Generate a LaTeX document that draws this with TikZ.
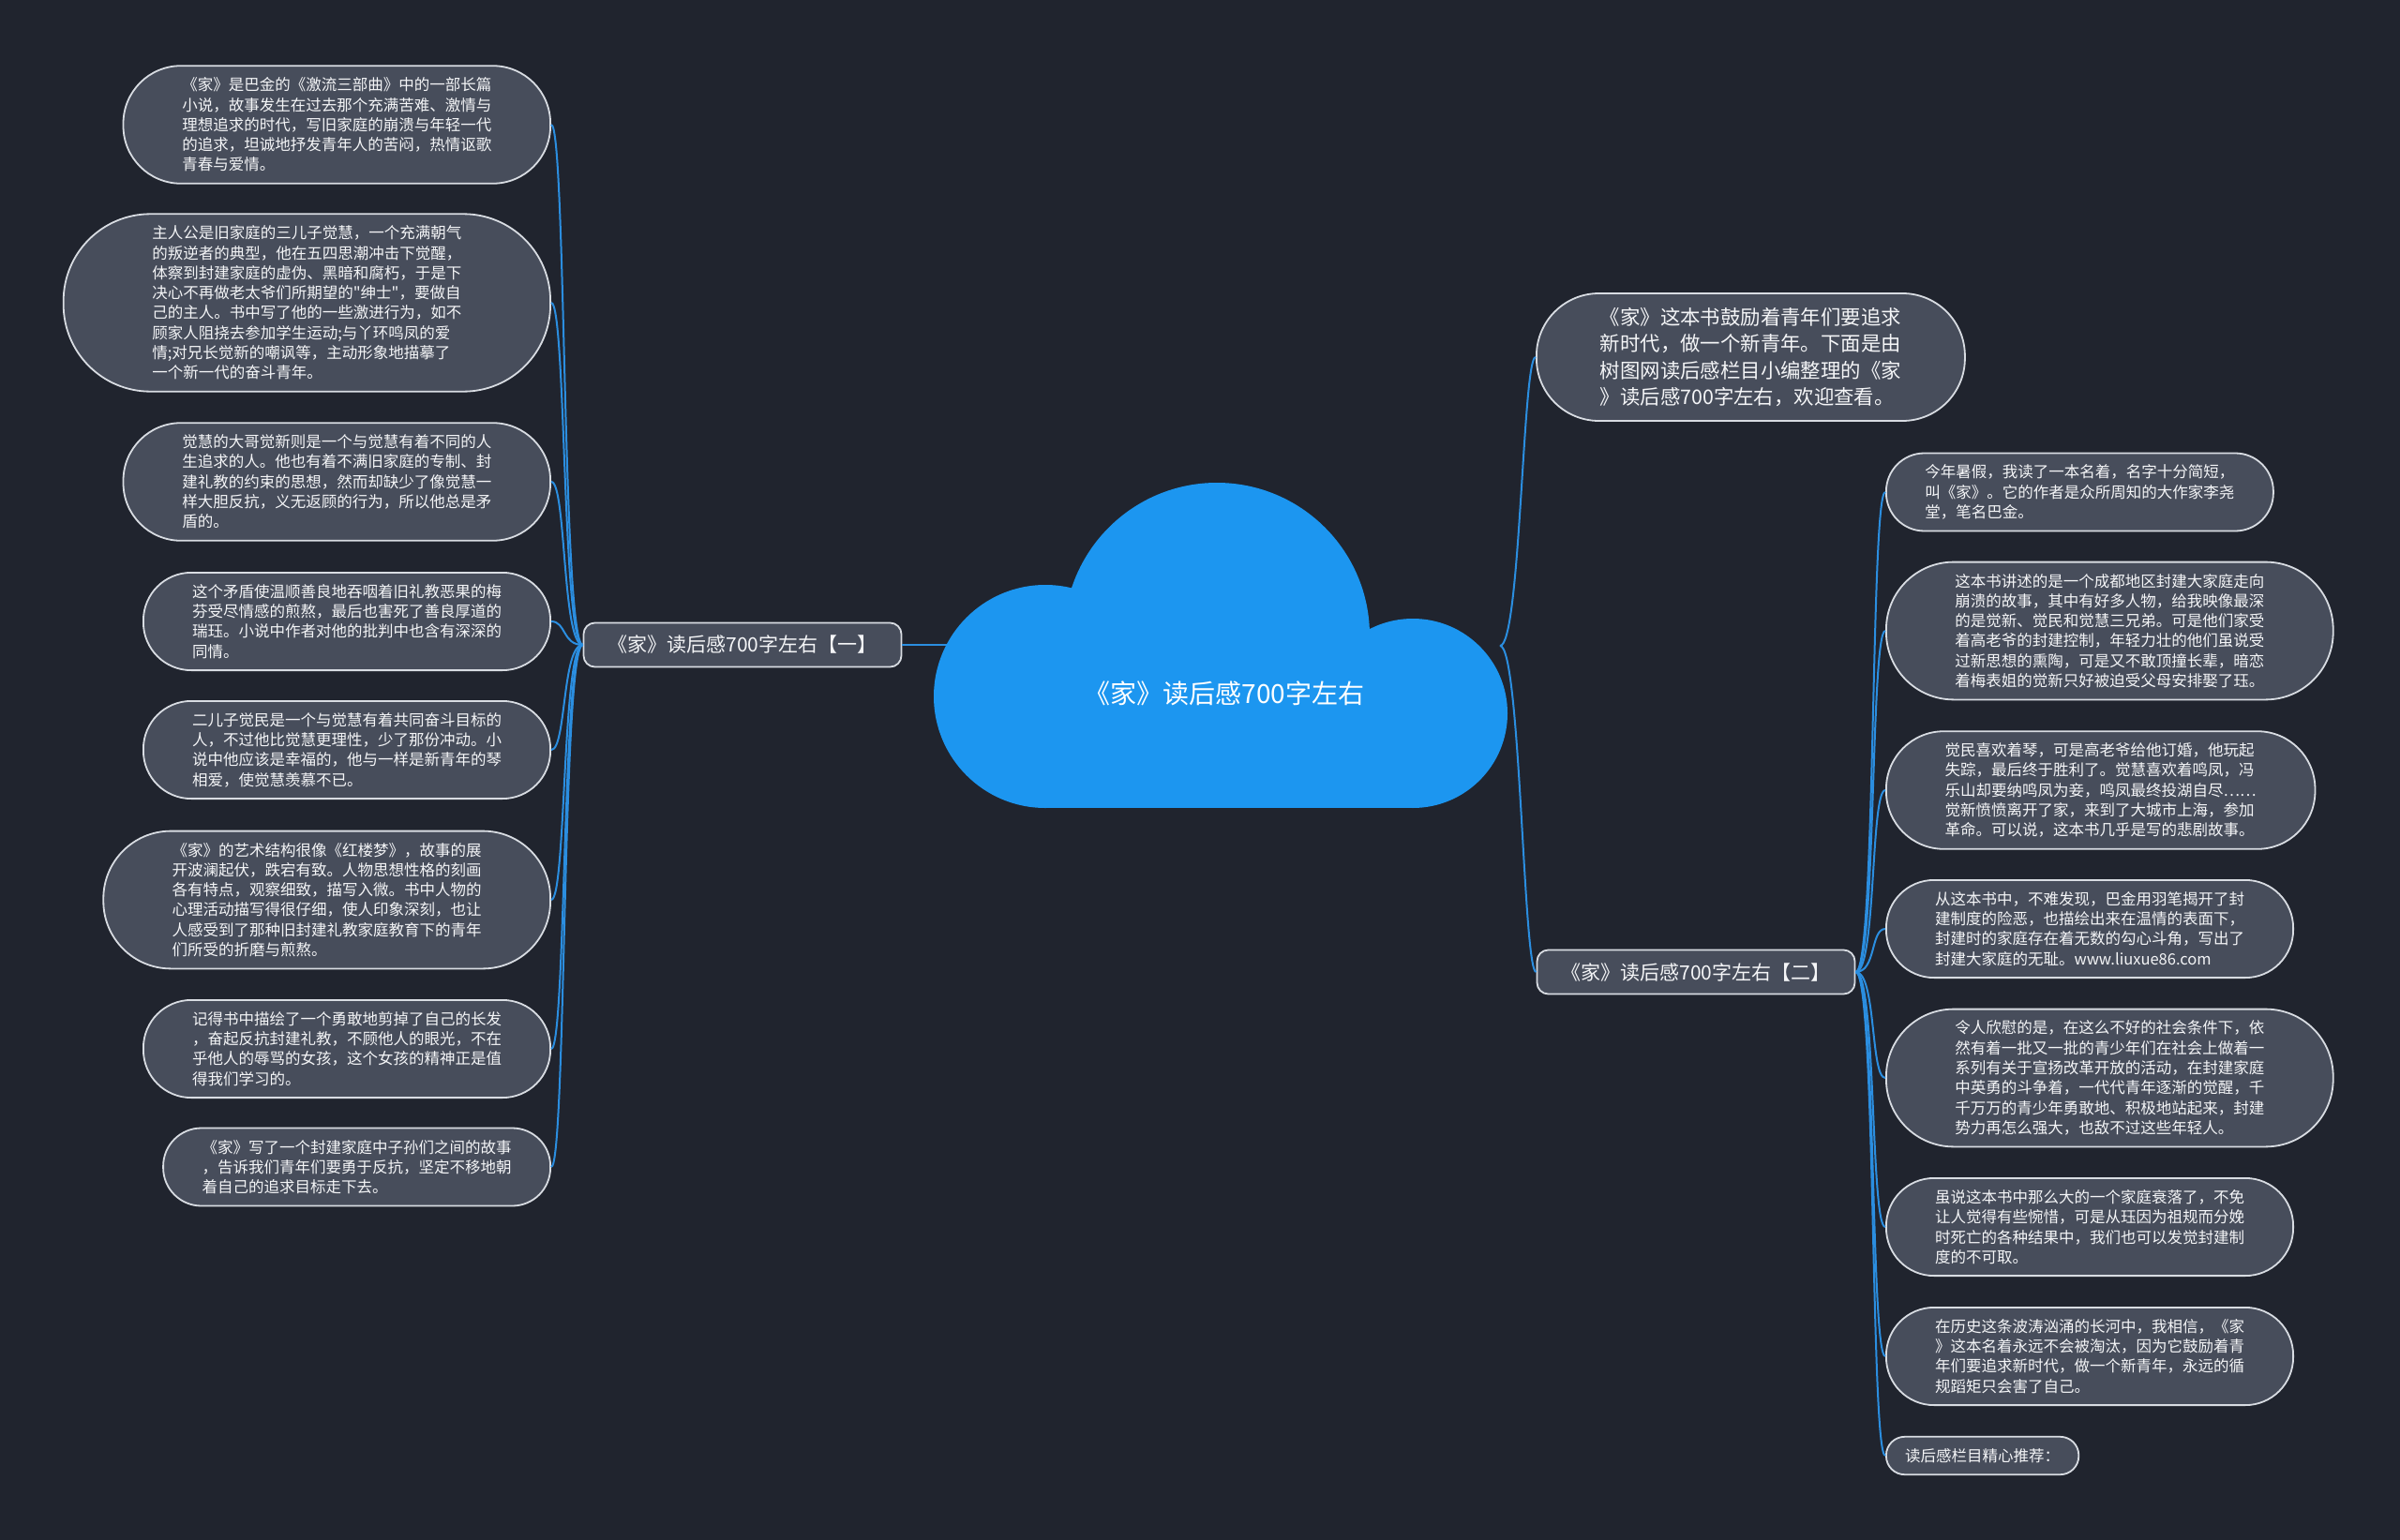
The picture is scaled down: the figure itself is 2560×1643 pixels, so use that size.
\documentclass[tikz,border=0pt]{standalone}
\usepackage{fontspec}
\newfontfamily\cjk{Noto Sans CJK SC}
\usetikzlibrary{calc}
\definecolor{bg}{HTML}{20242E}
\definecolor{nodefill}{HTML}{474D5B}
\definecolor{nodeline}{HTML}{D8DCE2}
\definecolor{linkblue}{HTML}{2B8EE0}
\definecolor{cloudblue}{HTML}{1C96F0}
\definecolor{txt}{HTML}{F4F5F7}
\begin{document}
\begin{tikzpicture}[x=0.5pt,y=-0.5pt,
  leaf/.style={rectangle, draw=nodeline, fill=nodefill, line width=0.9pt,
    minimum height=#1, inner xsep=0.5*#1, inner ysep=0pt, rounded corners=0.49*#1,
    align=left, text=txt, font=\cjk\fontsize{8.25}{10.65}\selectfont},
  introbox/.style={leaf=68pt, font=\cjk\fontsize{10.7}{14.2}\selectfont},
  branch/.style={rectangle, rounded corners=6pt, draw=nodeline, fill=nodefill, line width=0.9pt,
    minimum height=23.5pt, inner xsep=13pt, text=txt, font=\cjk\fontsize{10.5}{12}\selectfont},
  link/.style={draw=linkblue, line width=1pt}
]
\fill[bg] (0,0) rectangle (2560,1643);
\useasboundingbox (0,0) rectangle (2560,1643);

% anchors on the cloud
\coordinate (cloudW) at (1010,688);
\coordinate (cloudE) at (1600,689);

% branches
\node[branch] (bL) at (792,688) {《家》读后感700字左右【一】};
\node[branch] (bR) at (1809,1037) {《家》读后感700字左右【二】};

% left leaves
\node[leaf=62.8pt, anchor=east] (L1) at (588,133) {《家》是巴金的《激流三部曲》中的一部长篇\\小说，故事发生在过去那个充满苦难、激情与\\理想追求的时代，写旧家庭的崩溃与年轻一代\\的追求，坦诚地抒发青年人的苦闷，热情讴歌\\青春与爱情。};
\node[leaf=94.7pt, anchor=east] (L2) at (588,323) {主人公是旧家庭的三儿子觉慧，一个充满朝气\\的叛逆者的典型，他在五四思潮冲击下觉醒，\\体察到封建家庭的虚伪、黑暗和腐朽，于是下\\决心不再做老太爷们所期望的"绅士"，要做自\\己的主人。书中写了他的一些激进行为，如不\\顾家人阻挠去参加学生运动;与丫环鸣凤的爱\\情;对兄长觉新的嘲讽等，主动形象地描摹了\\一个新一代的奋斗青年。};
\node[leaf=62.8pt, anchor=east] (L3) at (588,514) {觉慧的大哥觉新则是一个与觉慧有着不同的人\\生追求的人。他也有着不满旧家庭的专制、封\\建礼教的约束的思想，然而却缺少了像觉慧一\\样大胆反抗，义无返顾的行为，所以他总是矛\\盾的。};
\node[leaf=52.1pt, anchor=east] (L4) at (588,663) {这个矛盾使温顺善良地吞咽着旧礼教恶果的梅\\芬受尽情感的煎熬，最后也害死了善良厚道的\\瑞珏。小说中作者对他的批判中也含有深深的\\同情。};
\node[leaf=52.1pt, anchor=east] (L5) at (588,800) {二儿子觉民是一个与觉慧有着共同奋斗目标的\\人，不过他比觉慧更理性，少了那份冲动。小\\说中他应该是幸福的，他与一样是新青年的琴\\相爱，使觉慧羡慕不已。};
\node[leaf=73.4pt, anchor=east] (L6) at (588,960) {《家》的艺术结构很像《红楼梦》，故事的展\\开波澜起伏，跌宕有致。人物思想性格的刻画\\各有特点，观察细致，描写入微。书中人物的\\心理活动描写得很仔细，使人印象深刻，也让\\人感受到了那种旧封建礼教家庭教育下的青年\\们所受的折磨与煎熬。};
\node[leaf=52.1pt, anchor=east] (L7) at (588,1119) {记得书中描绘了一个勇敢地剪掉了自己的长发\\，奋起反抗封建礼教，不顾他人的眼光，不在\\乎他人的辱骂的女孩，这个女孩的精神正是值\\得我们学习的。};
\node[leaf=41.5pt, anchor=east] (L8) at (588,1245) {《家》写了一个封建家庭中子孙们之间的故事\\，告诉我们青年们要勇于反抗，坚定不移地朝\\着自己的追求目标走下去。};

% intro
\node[introbox, anchor=west] (intro) at (1638,381) {《家》这本书鼓励着青年们要追求\\新时代，做一个新青年。下面是由\\树图网读后感栏目小编整理的《家\\》读后感700字左右，欢迎查看。};

% right leaves
\node[leaf=41.5pt, anchor=west] (R1) at (2011,525) {今年暑假，我读了一本名着，名字十分简短，\\叫《家》。它的作者是众所周知的大作家李尧\\堂，笔名巴金。};
\node[leaf=73.4pt, anchor=west] (R2) at (2011,673) {这本书讲述的是一个成都地区封建大家庭走向\\崩溃的故事，其中有好多人物，给我映像最深\\的是觉新、觉民和觉慧三兄弟。可是他们家受\\着高老爷的封建控制，年轻力壮的他们虽说受\\过新思想的熏陶，可是又不敢顶撞长辈，暗恋\\着梅表姐的觉新只好被迫受父母安排娶了珏。};
\node[leaf=62.8pt, anchor=west] (R3) at (2011,843) {觉民喜欢着琴，可是高老爷给他订婚，他玩起\\失踪，最后终于胜利了。觉慧喜欢着鸣凤，冯\\乐山却要纳鸣凤为妾，鸣凤最终投湖自尽……\\觉新愤愤离开了家，来到了大城市上海，参加\\革命。可以说，这本书几乎是写的悲剧故事。};
\node[leaf=52.1pt, anchor=west] (R4) at (2011,991) {从这本书中，不难发现，巴金用羽笔揭开了封\\建制度的险恶，也描绘出来在温情的表面下，\\封建时的家庭存在着无数的勾心斗角，写出了\\封建大家庭的无耻。www.liuxue86.com};
\node[leaf=73.4pt, anchor=west] (R5) at (2011,1150) {令人欣慰的是，在这么不好的社会条件下，依\\然有着一批又一批的青少年们在社会上做着一\\系列有关于宣扬改革开放的活动，在封建家庭\\中英勇的斗争着，一代代青年逐渐的觉醒，千\\千万万的青少年勇敢地、积极地站起来，封建\\势力再怎么强大，也敌不过这些年轻人。};
\node[leaf=52.1pt, anchor=west] (R6) at (2011,1309) {虽说这本书中那么大的一个家庭衰落了，不免\\让人觉得有些惋惜，可是从珏因为祖规而分娩\\时死亡的各种结果中，我们也可以发觉封建制\\度的不可取。};
\node[leaf=52.1pt, anchor=west] (R7) at (2011,1447) {在历史这条波涛汹涌的长河中，我相信，《家\\》这本名着永远不会被淘汰，因为它鼓励着青\\年们要追求新时代，做一个新青年，永远的循\\规蹈矩只会害了自己。};
\node[leaf=20.2pt, anchor=west] (R8) at (2011,1553) {读后感栏目精心推荐：};

% connectors
\draw[link] (cloudW) -- (bL.east);
\foreach \n in {L1,L2,L3,L4,L5,L6,L7,L8}
  \draw[link] (bL.west) .. controls +(-22,0) and +(16,0) .. (\n.east);
\draw[link] (cloudE) .. controls +(22,0) and +(-14,0) .. (intro.west);
\draw[link] (cloudE) .. controls +(22,0) and +(-14,0) .. (bR.west);
\foreach \n in {R1,R2,R3,R4,R5,R6,R7,R8}
  \draw[link] (bR.east) .. controls +(22,0) and +(-16,0) .. (\n.west);

% cloud
\fill[cloudblue] (1298,678) circle[radius=163];
\fill[cloudblue] (1115,743) circle[radius=119];
\fill[cloudblue] (1507,761) circle[radius=101];
\fill[cloudblue] (1115,700) rectangle (1507,862);
\node[text=white, font=\cjk\fontsize{14}{16}\selectfont] (root) at (1306,740) {《家》读后感700字左右};
\end{tikzpicture}
\end{document}
